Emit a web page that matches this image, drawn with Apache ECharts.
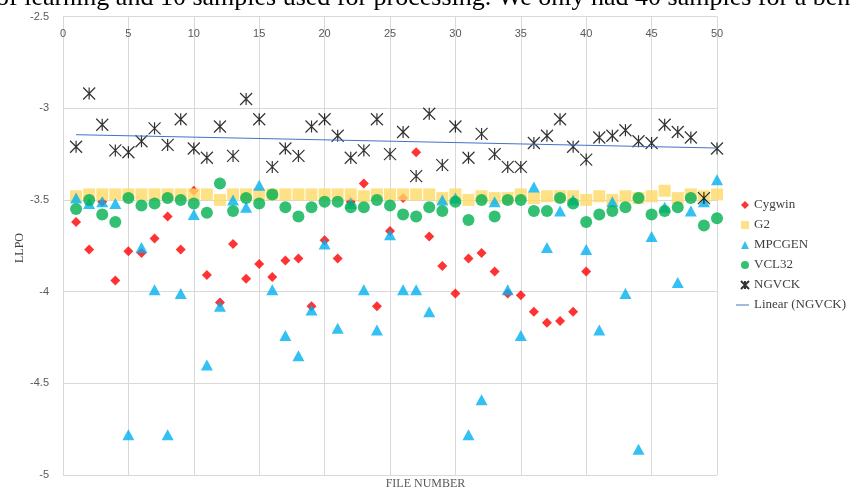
<!DOCTYPE html>
<html>
<head>
<meta charset="utf-8">
<script src="https://cdn.jsdelivr.net/npm/echarts@6/dist/echarts.min.js"></script>
<style>
  html, body { margin: 0; padding: 0; background: #fff; }
  #chart { width: 851px; height: 494px; }
</style>
</head>
<body>
<div id="chart"></div>
<script>
// file numbers (x)
const fileNumbers = [1, 2, 3, 4, 5, 6, 7, 8, 9, 10, 11, 12, 13, 14, 15, 16, 17, 18, 19, 20,
  21, 22, 23, 24, 25, 26, 27, 28, 29, 30, 31, 32, 33, 34, 35, 36, 37, 38, 39, 40,
  41, 42, 43, 44, 45, 46, 47, 48, 49, 50]

// LLPO values
const cygwin = [-3.62, -3.77, -3.51, -3.94, -3.78, -3.79, -3.71, -3.59, -3.77, -3.45,
  -3.91, -4.06, -3.74, -3.93, -3.85, -3.92, -3.83, -3.82, -4.08, -3.72,
  -3.82, -3.51, -3.41, -4.08, -3.67, -3.49, -3.24, -3.70, -3.86, -4.01,
  -3.82, -3.79, -3.89, -4.01, -4.02, -4.11, -4.17, -4.16, -4.11, -3.89]
const g2 = [-3.48, -3.47, -3.47, -3.47, -3.47, -3.47, -3.47, -3.47, -3.47, -3.47,
  -3.47, -3.50, -3.47, -3.47, -3.47, -3.47, -3.47, -3.47, -3.47, -3.47,
  -3.47, -3.47, -3.48, -3.47, -3.47, -3.47, -3.47, -3.47, -3.49, -3.47,
  -3.50, -3.48, -3.49, -3.49, -3.47, -3.49, -3.48, -3.48, -3.48, -3.50,
  -3.48, -3.50, -3.48, -3.49, -3.48, -3.45, -3.49, -3.47, -3.48, -3.47]
const mpcgen = [-3.49, -3.52, -3.51, -3.52, -4.78, -3.76, -3.99, -4.78, -4.01, -3.58,
  -4.40, -4.08, -3.50, -3.54, -3.42, -3.99, -4.24, -4.35, -4.10, -3.74,
  -4.20, -3.52, -3.99, -4.21, -3.69, -3.99, -3.99, -4.11, -3.50, -3.49,
  -4.78, -4.59, -3.51, -3.99, -4.24, -3.43, -3.76, -3.56, -3.50, -3.77,
  -4.21, -3.51, -4.01, -4.86, -3.70, -3.54, -3.95, -3.56, -3.51, -3.39]
const vcl32 = [-3.55, -3.50, -3.58, -3.62, -3.49, -3.53, -3.52, -3.49, -3.50, -3.52,
  -3.57, -3.41, -3.56, -3.49, -3.52, -3.47, -3.54, -3.59, -3.54, -3.51,
  -3.51, -3.54, -3.54, -3.50, -3.53, -3.58, -3.59, -3.54, -3.56, -3.51,
  -3.61, -3.50, -3.59, -3.50, -3.50, -3.56, -3.56, -3.49, -3.52, -3.62,
  -3.58, -3.56, -3.54, -3.49, -3.58, -3.56, -3.54, -3.49, -3.64, -3.60]
const ngvck = [-3.21, -2.92, -3.09, -3.23, -3.24, -3.18, -3.11, -3.20, -3.06, -3.22,
  -3.27, -3.10, -3.26, -2.95, -3.06, -3.32, -3.22, -3.26, -3.10, -3.06,
  -3.15, -3.27, -3.23, -3.06, -3.25, -3.13, -3.37, -3.03, -3.31, -3.10,
  -3.27, -3.14, -3.25, -3.32, -3.32, -3.19, -3.15, -3.06, -3.21, -3.28,
  -3.16, -3.15, -3.12, -3.18, -3.19, -3.09, -3.13, -3.16, -3.49, -3.22]

const pairs = (vals) => vals.map((v, i) => [fileNumbers[i], v])

// least squares trend of NGVCK
function linearFit(xs, ys) {
  let n = ys.length
  let mx = 0, my = 0
  for (let i = 0; i < n; i++) { mx += xs[i]; my += ys[i] }
  mx /= n; my /= n
  let sxy = 0, sxx = 0
  for (let i = 0; i < n; i++) {
    sxy += (xs[i] - mx) * (ys[i] - my)
    sxx += (xs[i] - mx) * (xs[i] - mx)
  }
  let b = sxy / sxx
  let a = my - b * mx
  let x0 = xs[0], x1 = xs[n - 1]
  return [[x0, a + b * x0], [x1, a + b * x1]]
}
const trend = linearFit(fileNumbers, ngvck)

const starPath = 'path://M0,0L10,10M10,0L0,10M5,0L5,10'
const tickFont = "'Liberation Sans Narrow', 'Liberation Sans', sans-serif"
const serif = "'Liberation Serif', 'DejaVu Serif', serif"
const gridColor = '#d9d9d9'
const legendText = { fontFamily: serif, fontSize: 13, color: '#404040' }

const chart = echarts.init(document.getElementById('chart'))
const option = {
  animation: false,
  backgroundColor: '#fff',
  grid: { left: 63, right: 134, top: 16.5, bottom: 19, containLabel: false },
  graphic: [
    {
      // page text cut off above the figure
      type: 'text', x: -4, y: -15,
      style: {
        text: 'of learning and 10 samples used for processing. We only had 40 samples for a ben',
        font: '26px ' + serif, fill: '#000'
      }
    },
    {
      type: 'text', left: 'center', top: 478,
      style: { text: 'FILE NUMBER', font: '12px ' + serif, fill: '#595959' },
      x: -34
    },
    {
      type: 'text', left: 14, top: 233, rotation: Math.PI / 2,
      style: { text: 'LLPO', font: '12px ' + serif, fill: '#404040' }
    }
  ],
  legend: [
    {
      orient: 'vertical',
      left: 735,
      top: 193.5,
      itemWidth: 8,
      itemHeight: 8,
      itemGap: 7,
      textStyle: legendText,
      data: ['Cygwin', 'G2', 'MPCGEN', 'VCL32', 'NGVCK']
    },
    {
      orient: 'vertical',
      left: 731,
      top: 293.5,
      itemWidth: 13,
      itemHeight: 1,
      textStyle: legendText,
      data: [{ name: 'Linear (NGVCK)', icon: 'rect' }]
    }
  ],
  xAxis: {
    type: 'value',
    position: 'top',
    min: 0,
    max: 50,
    interval: 5,
    axisLine: { show: false },
    axisTick: { show: false },
    axisLabel: { inside: true, margin: 12, color: '#595959', fontSize: 11, fontFamily: tickFont },
    splitLine: { lineStyle: { color: gridColor, width: 1 } }
  },
  yAxis: {
    type: 'value',
    min: -5,
    max: -2.5,
    interval: 0.5,
    axisLine: { show: false },
    axisTick: { show: false },
    axisLabel: { margin: 14, color: '#595959', fontSize: 11, fontFamily: tickFont },
    splitLine: { lineStyle: { color: gridColor, width: 1 } }
  },
  series: [
    {
      name: 'Cygwin', type: 'scatter', symbol: 'diamond', symbolSize: 10,
      itemStyle: { color: '#ff0000' },
      data: pairs(cygwin)
    },
    {
      name: 'G2', type: 'scatter', symbol: 'rect', symbolSize: 12,
      itemStyle: { color: '#ffd966' },
      data: pairs(g2)
    },
    {
      name: 'MPCGEN', type: 'scatter', symbol: 'triangle', symbolSize: [12, 11],
      itemStyle: { color: '#00b0f0' },
      data: pairs(mpcgen)
    },
    {
      name: 'VCL32', type: 'scatter', symbol: 'circle', symbolSize: 12,
      itemStyle: { color: '#00b050' },
      data: pairs(vcl32)
    },
    {
      name: 'NGVCK', type: 'scatter',
      symbol: starPath,
      symbolSize: 12,
      itemStyle: { color: 'rgba(0,0,0,0)', borderColor: '#000', borderWidth: 1.2 },
      data: pairs(ngvck)
    },
    {
      name: 'Linear (NGVCK)', type: 'line', symbol: 'none',
      lineStyle: { color: '#4472c4', width: 1 },
      itemStyle: { color: '#4472c4' },
      data: trend
    }
  ]
}
chart.setOption(option)
</script>
</body>
</html>
